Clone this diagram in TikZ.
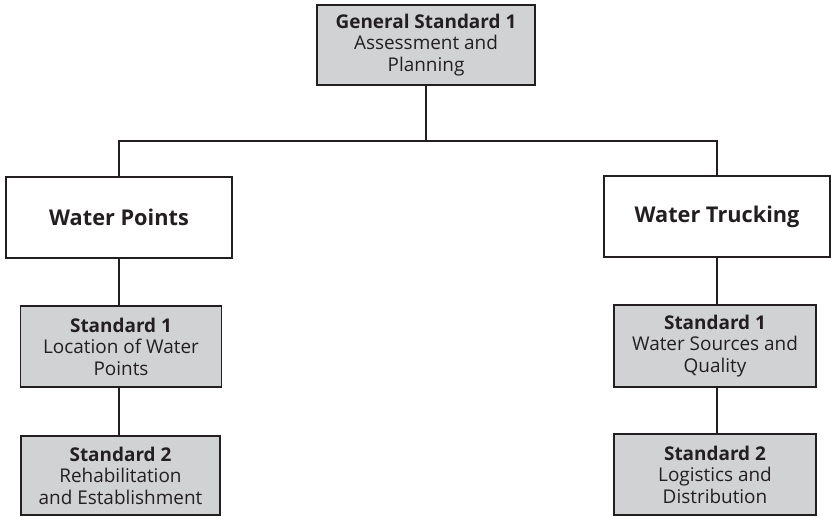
\documentclass[tikz,border=0pt]{standalone}
\usepackage{fontspec}
\setmainfont{Open Sans}
\definecolor{boxgray}{HTML}{D1D2D4}
\definecolor{ink}{HTML}{231F20}
\begin{document}
\begin{tikzpicture}[x=1bp,y=-1bp,
  box/.style={draw=ink,line width=1.5bp,rectangle,inner sep=0pt,align=center,text=ink},
  graybox/.style={box,fill=boxgray,font=\fontsize{19}{21.5}\selectfont},
  whitebox/.style={box,fill=white,font=\fontsize{21.8}{25}\selectfont\bfseries},
  conn/.style={draw=ink,line width=1.3bp}]
\useasboundingbox (0,0) rectangle (831,517);
\node[graybox,minimum width=218bp,minimum height=80bp] (top) at (426,45)
  {\textbf{General Standard 1}\\Assessment and\\Planning};
\node[whitebox,minimum width=226bp,minimum height=81bp] (wp) at (119,217.5) {Water Points};
\node[whitebox,minimum width=226bp,minimum height=81bp] (wt) at (717,216.5) {Water Trucking};
\node[graybox,minimum width=201bp,minimum height=81bp] (ls1) at (121,346.5)
  {\textbf{Standard 1}\\Location of Water\\Points};
\node[graybox,minimum width=199bp,minimum height=79bp] (ls2) at (120.5,475.5)
  {\textbf{Standard 2}\\Rehabilitation\\and Establishment};
\node[graybox,minimum width=202bp,minimum height=82bp] (rs1) at (715,346)
  {\textbf{Standard 1}\\Water Sources and\\Quality};
\node[graybox,minimum width=202bp,minimum height=81bp] (rs2) at (715,474.5)
  {\textbf{Standard 2}\\Logistics and\\Distribution};
\coordinate (jl) at (119,141);
\coordinate (jr) at (717,141);
\coordinate (jm) at (426,141);
\draw[conn] (top.south) -- (jm);
\draw[conn] (wp.north) -- (jl) -- (jr) -- (wt.north);
\draw[conn] (wp.south) -- (wp.south |- ls1.north);
\draw[conn] (ls1.south -| wp.south) -- (ls2.north -| wp.south);
\draw[conn] (wt.south) -- (wt.south |- rs1.north);
\draw[conn] (rs1.south -| wt.south) -- (rs2.north -| wt.south);
\end{tikzpicture}
\end{document}
